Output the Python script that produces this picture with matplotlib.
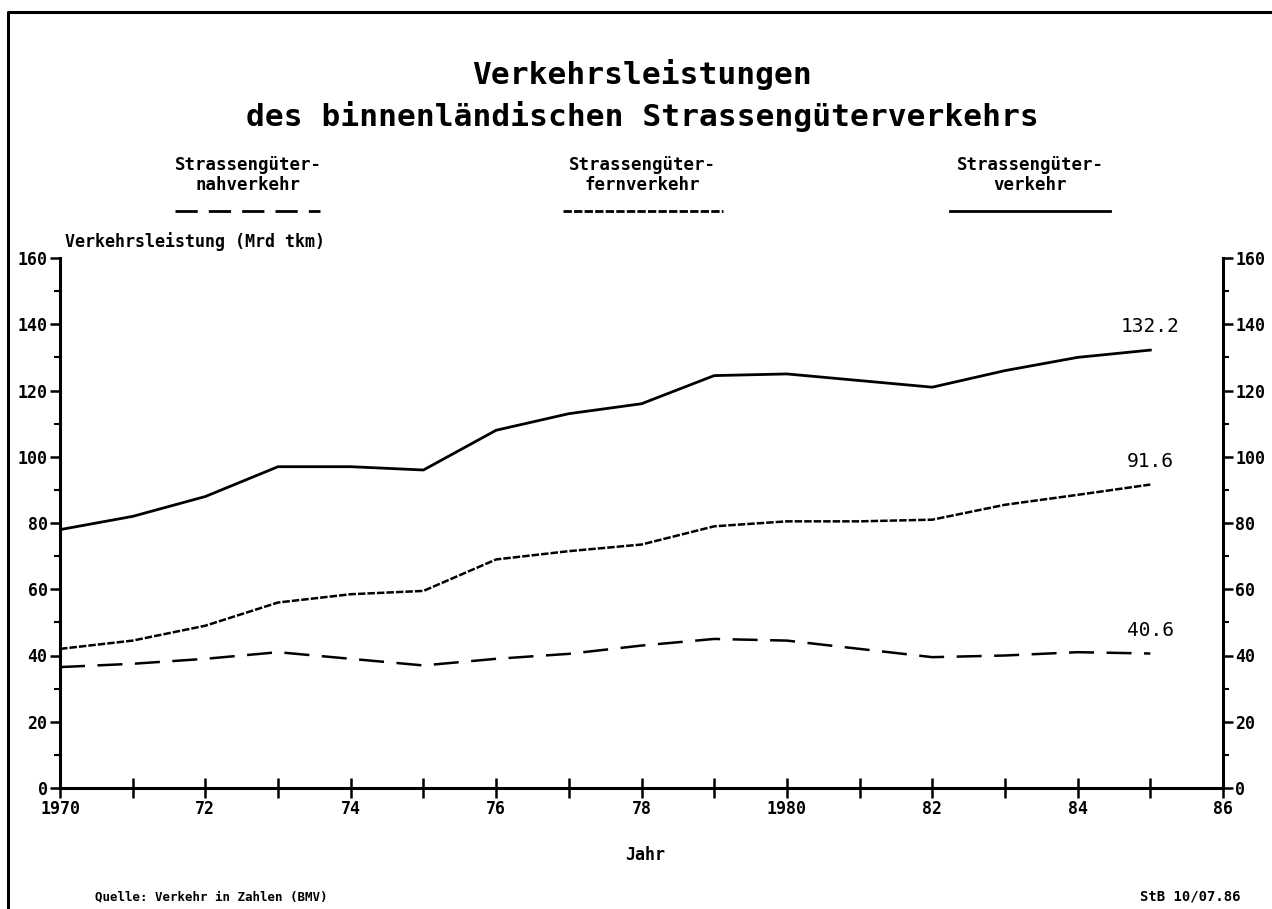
import numpy as np
import matplotlib
matplotlib.use("Agg")
from matplotlib import pyplot as plt
from matplotlib.lines import Line2D

# Verkehrsleistung in Mrd tkm
years = np.arange(1970, 1986)
nahverkehr = [36.5, 37.5, 39.0, 41.0, 39.0, 37.0, 39.0, 40.5,
              43.0, 45.0, 44.5, 42.0, 39.5, 40.0, 41.0, 40.6]
fernverkehr = [42.0, 44.5, 49.0, 56.0, 58.5, 59.5, 69.0, 71.5,
               73.5, 79.0, 80.5, 80.5, 81.0, 85.5, 88.5, 91.6]
gesamt = [78.0, 82.0, 88.0, 97.0, 97.0, 96.0, 108.0, 113.0,
          116.0, 124.5, 125.0, 123.0, 121.0, 126.0, 130.0, 132.2]

x_labels = ["1970", "72", "74", "76", "78", "1980", "82", "84", "86"]
y_ticks = np.arange(0, 161, 20)

plt.rcParams['font.family'] = 'DejaVu Sans Mono'
plt.rcParams['font.weight'] = 'bold'

W, H = 1272, 909
fig = plt.figure(figsize=(W / 100, H / 100), dpi=100)
ax = fig.add_axes([60 / W, 1 - 788 / H, (1223 - 60) / W, (788 - 258) / H])

ax.plot(years, nahverkehr, color='black', lw=1.8, dashes=(10, 5))
ax.plot(years, fernverkehr, color='black', lw=1.8, dashes=(3, 0.8))
ax.plot(years, gesamt, color='black', lw=2.0)

# end values
for series in (gesamt, fernverkehr, nahverkehr):
    ax.annotate(f"{series[-1]:.1f}", xy=(years[-1], series[-1]), xytext=(0, 10),
                textcoords='offset points', ha='center', va='bottom',
                fontsize=14, fontweight='normal')

ax.set_xlim(1970, 1986)
ax.set_ylim(0, 160)
ax.set_xticks(np.arange(1970, 1987, 2))
ax.set_xticklabels(x_labels)
ax.set_xticks(np.arange(1971, 1986, 2), minor=True)
ax.set_yticks(y_ticks)
ax.set_yticks(np.arange(10, 160, 20), minor=True)

ax.spines['top'].set_visible(False)
for side in ['left', 'right', 'bottom']:
    ax.spines[side].set_linewidth(2.2)

ax.tick_params(axis='x', which='both', direction='inout', length=14, width=1.8,
               labelsize=12, pad=2)
ax.tick_params(axis='y', which='major', direction='out', length=7, width=1.8,
               labelsize=12, left=True, right=True, labelleft=True, labelright=True, pad=2)
ax.tick_params(axis='y', which='minor', direction='out', length=4, width=1.5,
               left=True, right=True)

# titles and labels
fig.text(642 / W, 1 - 75 / H, "Verkehrsleistungen", ha='center', va='center', fontsize=22.5)
fig.text(642 / W, 1 - 117 / H, "des binnenländischen Strassengüterverkehrs",
         ha='center', va='center', fontsize=22.5)
fig.text(65 / W, 1 - 242 / H, "Verkehrsleistung (Mrd tkm)", ha='left', va='center', fontsize=12)
fig.text(645 / W, 1 - 855 / H, "Jahr", ha='center', va='center', fontsize=12)
fig.text(95 / W, 1 - 897 / H, "Quelle: Verkehr in Zahlen (BMV)", ha='left', va='center', fontsize=9)
fig.text(1240 / W, 1 - 897 / H, "StB 10/07.86", ha='right', va='center', fontsize=10)

# legend
legend = [("Strassengüter-\nnahverkehr", 248, 175, 320, dict(dashes=(8, 4))),
          ("Strassengüter-\nfernverkehr", 642, 563, 723, dict(dashes=(3, 0.8))),
          ("Strassengüter-\nverkehr", 1030, 950, 1110, dict())]
for label, xc, x0, x1, style in legend:
    fig.text(xc / W, 1 - 175 / H, label, ha='center', va='center', fontsize=12.5,
             linespacing=1.2)
    fig.add_artist(Line2D([x0 / W, x1 / W], [1 - 211 / H, 1 - 211 / H],
                          color='black', lw=2.0, **style))

# page frame
fig.add_artist(Line2D([8 / W, 8 / W, 1 - 1 / W], [0, 1 - 12 / H, 1 - 12 / H],
                      color='black', lw=2.2))

fig.savefig("out.png", dpi=100)
